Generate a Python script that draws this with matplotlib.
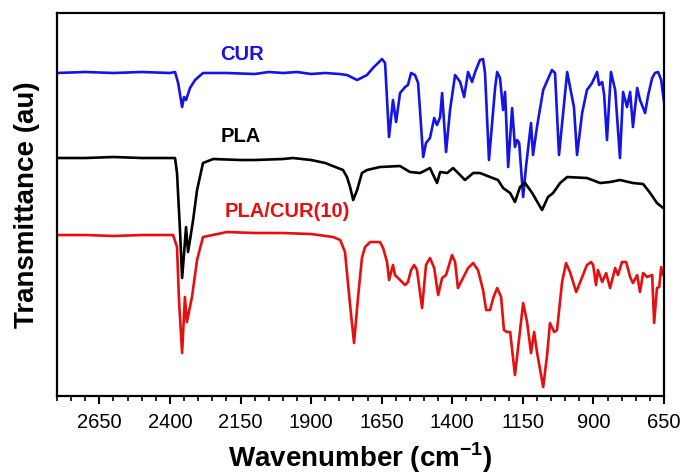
import matplotlib
matplotlib.use("Agg")
import matplotlib.pyplot as plt
from matplotlib.ticker import MultipleLocator, FixedLocator

plt.rcParams["font.family"] = ["Liberation Sans", "DejaVu Sans"]
plt.rcParams["mathtext.fontset"] = "custom"
plt.rcParams["mathtext.rm"] = "Liberation Sans:bold"
plt.rcParams["mathtext.bf"] = "Liberation Sans:bold"

# FTIR spectra: wavenumber (cm-1) and offset transmittance (au)
cur_wn = [2800, 2700, 2600, 2500, 2400, 2382, 2371, 2357, 2350, 2343, 2329, 2311, 2283,
          2200, 2100, 2050, 2000, 1950, 1900, 1850, 1800, 1773, 1737, 1702, 1681, 1663,
          1649, 1638, 1624, 1610, 1599, 1585, 1567, 1557, 1546, 1532, 1521, 1503, 1493,
          1479, 1464, 1454, 1443, 1436, 1422, 1408, 1390, 1372, 1358, 1344, 1330, 1319,
          1302, 1291, 1284, 1270, 1248, 1241, 1231, 1220, 1213, 1202, 1188, 1178, 1170,
          1163, 1149, 1139, 1121, 1114, 1100, 1078, 1047, 1036, 1022, 993, 976, 969, 958,
          940, 923, 905, 887, 880, 869, 862, 852, 838, 823, 806, 795, 781, 770, 760, 745,
          735, 717, 706, 692, 682, 671, 660, 650]
cur_t = [323, 324, 323, 324, 323, 324, 313, 289, 299, 296, 308, 316, 323,
         323, 322, 324, 323, 324, 322, 323, 322, 321, 316, 321, 328, 333,
         337, 333, 259, 296, 274, 303, 309, 311, 323, 321, 313, 239, 253,
         258, 278, 271, 279, 303, 244, 286, 321, 314, 299, 324, 314, 324,
         336, 337, 323, 236, 309, 324, 318, 286, 304, 229, 288, 249, 256,
         253, 199, 229, 273, 241, 269, 306, 326, 323, 241, 324, 299, 289, 241,
         283, 306, 313, 324, 311, 314, 301, 256, 324, 306, 238, 304, 289, 304, 269, 308,
         296, 283, 301, 318, 323, 324, 316, 294]

pla_wn = [2800, 2700, 2600, 2500, 2450, 2390, 2382, 2375, 2364, 2357, 2350, 2343, 2336,
          2329, 2318, 2304, 2283, 2247, 2150, 2100, 2000, 1964, 1900, 1850, 1787, 1773,
          1762, 1751, 1737, 1720, 1702, 1656, 1585, 1550, 1514, 1479, 1454, 1443, 1418,
          1397, 1355, 1326, 1302, 1266, 1238, 1220, 1195, 1178, 1160, 1142, 1117, 1082,
          1061, 1043, 1018, 993, 923, 876, 841, 806, 760, 724, 699, 675, 653]
pla_t = [238, 238, 239, 238, 238, 238, 238, 223, 163, 118, 143, 169, 144,
         156, 176, 206, 233, 237, 236, 236, 237, 238, 236, 233, 226, 219,
         209, 196, 206, 223, 226, 229, 230, 224, 223, 228, 213, 224, 223,
         228, 216, 223, 223, 219, 216, 208, 203, 194, 209, 213, 203, 186,
         199, 203, 213, 219, 218, 213, 214, 216, 213, 212, 203, 193, 188]

blend_wn = [2800, 2700, 2600, 2500, 2450, 2389, 2375, 2368, 2357, 2347, 2340, 2322, 2304,
            2283, 2198, 2100, 2000, 1900, 1822, 1797, 1780, 1762, 1748, 1734, 1720, 1709,
            1691, 1656, 1645, 1631, 1624, 1610, 1603, 1585, 1567, 1557, 1546, 1535, 1525,
            1507, 1493, 1479, 1464, 1450, 1436, 1422, 1401, 1390, 1380, 1362, 1344, 1326,
            1309, 1291, 1280, 1266, 1255, 1241, 1227, 1217, 1206, 1195, 1178, 1163, 1149,
            1135, 1121, 1110, 1100, 1078, 1064, 1054, 1039, 1029, 1011, 997, 983, 961, 944,
            923, 908, 901, 891, 884, 869, 855, 841, 823, 813, 799, 784, 770, 760, 745, 735,
            724, 710, 692, 685, 675, 667, 660, 653]
blend_t = [161, 161, 160, 161, 161, 161, 149, 96, 43, 99, 74, 99, 136,
           159, 164, 163, 163, 162, 159, 156, 144, 91, 53, 98, 138, 149,
           154, 154, 148, 134, 116, 131, 121, 116, 111, 114, 126, 131, 126,
           88, 131, 138, 128, 101, 118, 121, 141, 134, 108, 118, 128, 133,
           126, 106, 86, 86, 98, 108, 99, 66, 64, 64, 21, 58, 93,
           74, 43, 64, 44, 9, 41, 73, 64, 66, 114, 133, 124, 104, 116,
           131, 134, 131, 111, 126, 114, 123, 108, 128, 121, 134, 134, 119, 113, 121, 104,
           123, 119, 121, 73, 108, 109, 129, 121]

series_names = ["CUR", "PLA", "PLA/CUR(10)"]
series_colors = ["#1414e6", "#000000", "#e60f0f"]
x_ticks = [2650, 2400, 2150, 1900, 1650, 1400, 1150, 900, 650]

fig = plt.figure(figsize=(6.83, 4.76), dpi=100)
ax = fig.add_axes([0.0835, 0.168, 0.8887, 0.8047])

for wn, t, c in zip([cur_wn, pla_wn, blend_wn], [cur_t, pla_t, blend_t], series_colors):
    ax.plot(wn, t, color=c, lw=1.9, solid_joinstyle="round", solid_capstyle="round")

label_pos = [(2145, 341), (2148, 260), (1985, 185)]
for name, c, (lx, ly) in zip(series_names, series_colors, label_pos):
    ax.text(lx, ly, name, color=c, fontsize=14.5, fontweight="bold",
            ha="center", va="center")

ax.set_xlim(2800, 650)
ax.set_ylim(0, 383)
ax.xaxis.set_major_locator(FixedLocator(x_ticks))
ax.xaxis.set_minor_locator(MultipleLocator(50))
ax.set_xticklabels([str(v) for v in x_ticks], fontsize=14.5)
ax.set_yticks([])
ax.tick_params(axis="x", which="major", direction="out", length=6, width=1.5, pad=6)
ax.tick_params(axis="x", which="minor", direction="out", length=3.5, width=1.2)
for s in ax.spines.values():
    s.set_linewidth(1.6)

ax.set_xlabel(r"Wavenumber (cm$^{-1}$)", fontsize=20, fontweight="bold", labelpad=6)
ax.set_ylabel("Transmittance (au)", fontsize=20, fontweight="bold", labelpad=12)

fig.savefig("out.png", dpi=100)
